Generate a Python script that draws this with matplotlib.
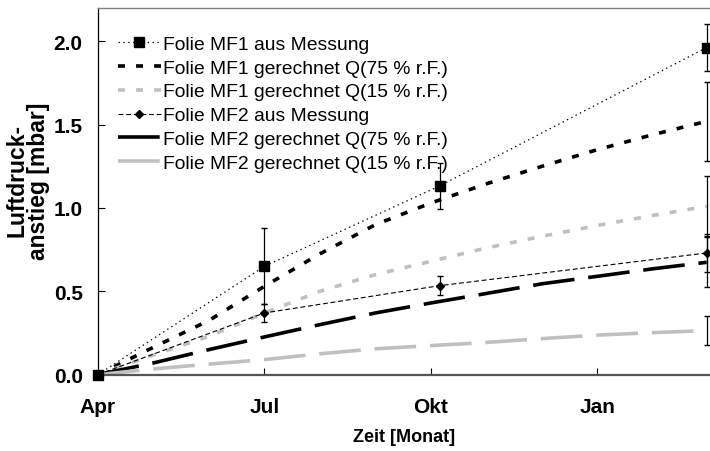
import matplotlib
matplotlib.use("Agg")
import matplotlib.pyplot as plt

plt.rcParams['font.family'] = ['Liberation Sans', 'DejaVu Sans']
plt.rcParams['lines.scale_dashes'] = False

# months counted from April
month_ticks = [0, 3, 6, 9]
month_labels = ["Apr", "Jul", "Okt", "Jan"]

# measurements
t_meas = [0, 3, 6.16, 10.97]
mf1_meas = [0.0, 0.65, 1.133, 1.963]
mf1_err = [0.0, 0.227, 0.14, 0.14]
mf2_meas = [0.0, 0.37, 0.534, 0.73]
mf2_err = [0.0, 0.055, 0.056, 0.115]

# calculated curves
t_calc = [0, 1, 2, 3, 4, 5, 6, 7, 8, 9, 10, 10.97]
mf1_q75 = [0.0, 0.164, 0.325, 0.53, 0.725, 0.90, 1.03, 1.145, 1.25, 1.35, 1.44, 1.52]
mf1_q15 = [0.0, 0.118, 0.23, 0.37, 0.50, 0.60, 0.68, 0.76, 0.83, 0.895, 0.955, 1.01]
mf2_q75 = [0.0, 0.07, 0.15, 0.226, 0.30, 0.37, 0.43, 0.487, 0.545, 0.59, 0.635, 0.674]
mf2_q15 = [0.0, 0.034, 0.063, 0.09, 0.125, 0.155, 0.174, 0.193, 0.216, 0.237, 0.252, 0.264]
# error at the last calculated point
calc_err = [0.235, 0.18, 0.15, 0.088]

grey = "#c0c0c0"

fig = plt.figure(figsize=(7.1, 4.52), dpi=100)
ax = fig.add_axes([0.138, 0.169, 0.862, 0.811])

h = []
h += ax.plot(t_meas, mf1_meas, color="black", lw=0.9, ls=(0, (1, 2.5)),
             marker="s", ms=6.5, clip_on=False, zorder=4, label="Folie MF1 aus Messung")
h += ax.plot(t_calc, mf1_q75, color="black", lw=2.6, ls=(0, (5, 8)),
             label="Folie MF1 gerechnet Q(75 % r.F.)")
h += ax.plot(t_calc, mf1_q15, color=grey, lw=2.6, ls=(0, (5, 8)),
             label="Folie MF1 gerechnet Q(15 % r.F.)")
h += ax.plot(t_meas, mf2_meas, color="black", lw=0.8, ls=(0, (3.5, 2)),
             marker="D", ms=4.5, clip_on=False, zorder=4, label="Folie MF2 aus Messung")
h += ax.plot(t_calc, mf2_q75, color="black", lw=2.6, ls=(0, (30, 10)),
             label="Folie MF2 gerechnet Q(75 % r.F.)")
h += ax.plot(t_calc, mf2_q15, color=grey, lw=2.6, ls=(0, (30, 10)),
             label="Folie MF2 gerechnet Q(15 % r.F.)")

ax.errorbar(t_meas[1:], mf1_meas[1:], yerr=mf1_err[1:], fmt="none",
            ecolor="black", elinewidth=0.9, capsize=2.5)
ax.errorbar(t_meas[1:], mf2_meas[1:], yerr=mf2_err[1:], fmt="none",
            ecolor="black", elinewidth=0.9, capsize=2.5)
ends = [mf1_q75[-1], mf1_q15[-1], mf2_q75[-1], mf2_q15[-1]]
ax.errorbar([t_calc[-1]] * 4, ends, yerr=calc_err, fmt="none",
            ecolor="black", elinewidth=0.9, capsize=2.5)

ax.set_xlim(0, 11.03)
ax.set_ylim(0, 2.2)
ax.set_xticks(month_ticks)
ax.set_xticklabels(month_labels)
ax.set_yticks([0.0, 0.5, 1.0, 1.5, 2.0])
ax.set_yticklabels(["0.0", "0.5", "1.0", "1.5", "2.0"])
ax.tick_params(axis="both", direction="in", length=5, width=0.8, labelsize=15)
ax.tick_params(axis="y", pad=11)
ax.tick_params(axis="x", pad=16)
for lab in ax.get_xticklabels() + ax.get_yticklabels():
    lab.set_fontweight("bold")

ax.spines["right"].set_visible(False)
ax.spines["top"].set_color("#808080")
ax.spines["top"].set_linewidth(1.0)
ax.spines["bottom"].set_color("#555555")
ax.spines["bottom"].set_linewidth(1.6)
ax.spines["left"].set_color("black")
ax.spines["left"].set_linewidth(0.9)

ax.set_ylabel("Luftdruck-\nanstieg [mbar]", fontsize=16.5, fontweight="bold", linespacing=0.95)
ax.yaxis.set_label_coords(-0.078, 0.531)
ax.set_xlabel("Zeit [Monat]", fontsize=13, fontweight="bold")
ax.xaxis.set_label_coords(0.5, -0.145)

ax.legend(handles=h, loc="upper left", bbox_to_anchor=(0.033, 0.926), frameon=False,
          fontsize=13.9, handlelength=2.2, handletextpad=0.1, labelspacing=0.33,
          borderaxespad=0, borderpad=0)

plt.savefig("out.png", dpi=100)
